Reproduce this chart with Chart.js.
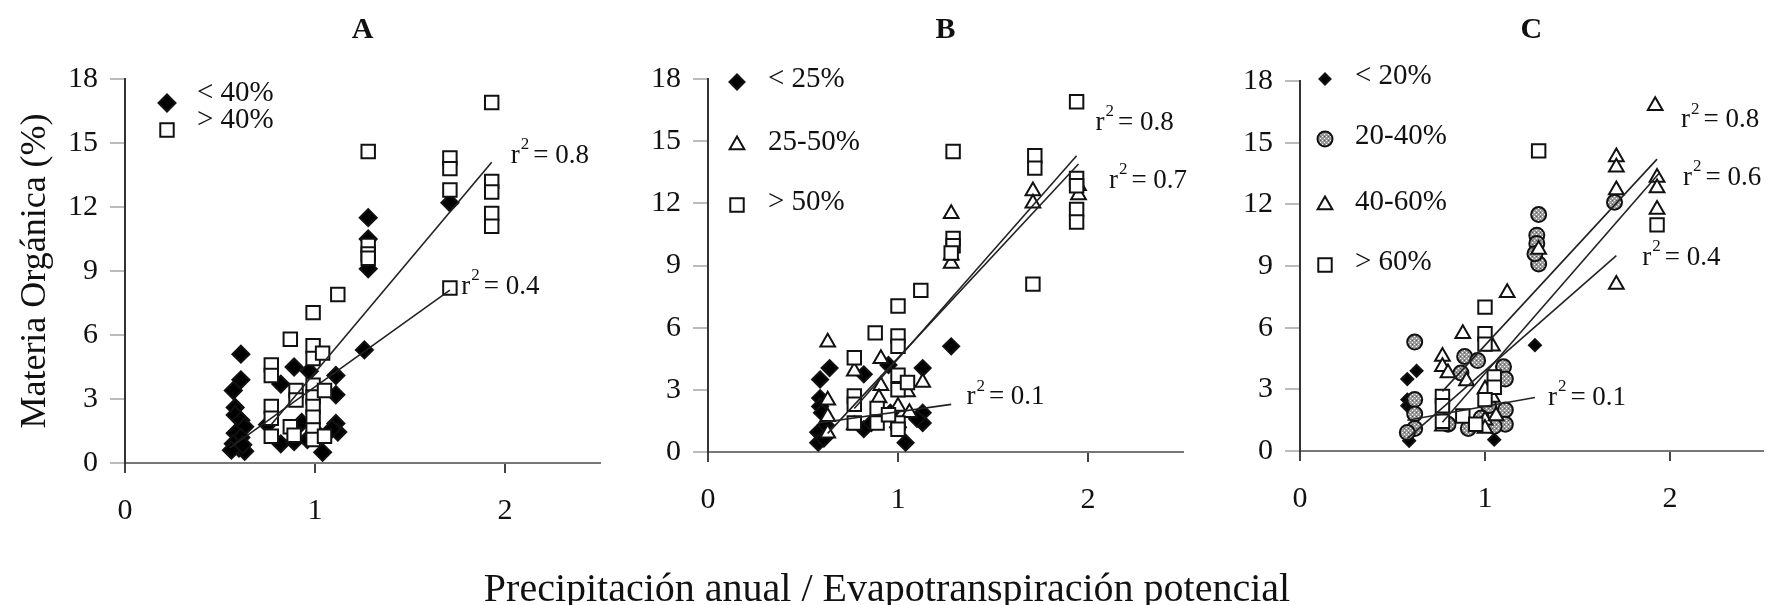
<!DOCTYPE html>
<html>
<head>
<meta charset="utf-8">
<script src="https://cdn.jsdelivr.net/npm/chart.js@4.4.1/dist/chart.umd.min.js"></script>
<style>
  html, body { margin: 0; padding: 0; background: #fff; }
  #wrap { position: relative; width: 1774px; height: 605px; overflow: hidden; background: #fff; }
  #wrap canvas { position: absolute; top: 0; }
  #xtitle {
    position: absolute; left: 0; top: 564px; width: 1774px;
    text-align: center; line-height: 44px; color: #111;
    font: 40px 'Liberation Serif', 'Times New Roman', serif;
  }
</style>
</head>
<body>
<div id="wrap">
  <canvas id="panelA" style="left:0px" width="640" height="605"></canvas>
  <canvas id="panelB" style="left:600px" width="610" height="605"></canvas>
  <canvas id="panelC" style="left:1190px" width="584" height="605"></canvas>
  <div id="xtitle">Precipitación anual / Evapotranspiración potencial</div>
</div>
<script>
const X_TICKS = [0, 1, 2];
const Y_TICKS = [0, 3, 6, 9, 12, 15, 18];

// A: arcilla
const A_LABELS = ['< 40%', '> 40%'];
const A_BELOW_40 = [
  [0.61, 5.1], [0.61, 3.9], [0.57, 3.4], [0.58, 2.6], [0.58, 2.25], [0.61, 2.0],
  [0.63, 1.7], [0.58, 1.4], [0.61, 1.2], [0.57, 0.9], [0.60, 0.7], [0.63, 0.55],
  [0.56, 0.6], [0.62, 0.85], [0.82, 3.7], [0.89, 4.5], [0.97, 4.3], [1.11, 4.1],
  [1.11, 3.2], [1.11, 1.85], [1.12, 1.45], [1.09, 1.6], [1.04, 0.5], [0.82, 0.9],
  [0.89, 1.0], [0.96, 1.1], [0.75, 1.8], [0.93, 1.9], [1.00, 1.5], [1.26, 5.3],
  [1.28, 9.1], [1.28, 10.5], [1.28, 11.5], [1.71, 12.2]
];
const A_ABOVE_40 = [
  [1.93, 16.9], [1.28, 14.6], [1.71, 14.3], [1.71, 13.8], [1.71, 12.8], [1.93, 13.2],
  [1.93, 12.7], [1.93, 11.7], [1.93, 11.1], [1.28, 10.2], [1.28, 9.8], [1.28, 9.6],
  [1.71, 8.2], [1.12, 7.9], [0.99, 7.05], [0.87, 5.8], [0.99, 5.5], [0.99, 4.9],
  [1.04, 5.15], [0.77, 4.6], [0.77, 4.1], [0.90, 3.4], [0.90, 2.95], [0.99, 3.65],
  [0.99, 3.1], [0.99, 2.65], [0.99, 2.15], [0.99, 1.55], [0.99, 1.1], [1.05, 3.4],
  [0.77, 2.65], [0.77, 2.1], [0.77, 1.25], [0.87, 1.7], [0.89, 1.3], [1.05, 1.25]
];
const A_FIT_ABOVE_40 = [[0.77, 1.8], [1.93, 14.1]];
const A_FIT_BELOW_40 = [[0.55, 0.7], [1.71, 8.1]];
const A_R2 = ['0.8', '0.4'];

// B: limo
const B_LABELS = ['< 25%', '25-50%', '> 50%'];
const B_BELOW_25 = [
  [1.28, 5.1], [0.64, 4.05], [0.59, 3.5], [0.82, 3.75], [1.13, 4.05], [0.59, 2.6],
  [0.59, 2.2], [0.60, 1.9], [0.58, 0.95], [0.58, 0.45], [0.61, 0.65], [0.62, 1.3],
  [1.13, 1.9], [1.13, 1.4], [1.10, 1.6], [1.04, 0.45], [0.82, 1.1], [0.86, 1.4],
  [0.96, 1.9], [0.95, 4.2], [1.00, 1.2]
];
const B_25_50 = [
  [1.28, 11.5], [1.28, 9.1], [1.28, 9.5], [1.71, 12.6], [1.71, 12.0], [1.95, 12.85],
  [1.95, 12.4], [0.63, 5.3], [0.77, 3.9], [0.91, 4.5], [0.91, 3.2], [0.63, 2.5],
  [0.63, 1.7], [0.63, 0.9], [1.13, 3.35], [1.00, 2.2], [1.06, 1.9], [0.90, 2.6],
  [0.77, 1.3], [1.05, 2.9]
];
const B_ABOVE_50 = [
  [1.94, 16.9], [1.29, 14.5], [1.72, 14.3], [1.72, 13.7], [1.94, 13.2], [1.94, 12.85],
  [1.94, 11.7], [1.94, 11.1], [1.29, 10.3], [1.29, 9.95], [1.28, 9.6], [1.71, 8.1],
  [1.12, 7.8], [1.00, 7.05], [0.88, 5.75], [1.00, 5.6], [1.00, 5.1], [0.77, 4.55],
  [0.77, 2.7], [0.77, 2.3], [0.77, 1.4], [0.89, 2.1], [0.89, 1.4], [1.00, 3.7],
  [1.00, 3.0], [1.00, 1.4], [1.00, 1.1], [1.05, 3.35], [0.95, 1.8]
];
const B_FIT_ABOVE_50 = [[0.77, 2.1], [1.94, 14.3]];
const B_FIT_25_50 = [[0.63, 0.9], [1.95, 13.9]];
const B_FIT_BELOW_25 = [[0.58, 1.4], [1.28, 2.3]];
const B_R2 = ['0.8', '0.7', '0.1'];

// C: arena
const C_LABELS = ['< 20%', '20-40%', '40-60%', '> 60%'];
const C_BELOW_20 = [
  [0.58, 3.5], [0.63, 3.9], [1.27, 5.15], [0.58, 2.5], [0.58, 2.2], [0.59, 0.5],
  [1.05, 0.55], [0.60, 1.0]
];
const C_20_40 = [
  [0.62, 5.3], [1.29, 11.5], [1.28, 10.5], [1.28, 10.1], [1.29, 9.1], [1.27, 9.6],
  [1.70, 12.1], [0.89, 4.6], [0.96, 4.4], [1.10, 4.1], [1.11, 3.5], [0.62, 2.5],
  [0.62, 1.8], [0.62, 1.1], [0.58, 0.9], [0.87, 3.8], [1.11, 2.0], [1.11, 1.3],
  [0.91, 1.1], [1.02, 2.2], [0.98, 1.6], [1.05, 1.2], [0.80, 1.3]
];
const C_40_60 = [
  [1.92, 16.8], [1.71, 14.3], [1.71, 13.8], [1.71, 12.7], [1.93, 13.3], [1.93, 12.8],
  [1.93, 11.75], [1.71, 8.1], [1.29, 9.8], [1.12, 7.7], [0.88, 5.7], [0.77, 4.6],
  [0.77, 4.1], [1.04, 5.1], [0.90, 3.4], [1.00, 3.0], [1.00, 1.5], [1.00, 1.1],
  [1.06, 1.7], [0.80, 3.8], [1.04, 2.6], [0.77, 1.2]
];
const C_ABOVE_60 = [
  [1.29, 14.6], [1.93, 11.0], [1.00, 7.0], [1.00, 5.7], [1.00, 5.2], [0.77, 2.65],
  [0.77, 2.2], [0.77, 1.45], [0.88, 1.7], [1.05, 3.6], [1.05, 3.1], [1.00, 2.5],
  [0.95, 1.3]
];
const C_FIT_40_60 = [[0.77, 2.9], [1.93, 14.2]];
const C_FIT_ABOVE_60 = [[0.77, 1.4], [1.94, 13.5]];
const C_FIT_20_40 = [[0.58, 0.6], [1.71, 9.5]];
const C_FIT_BELOW_20 = [[0.58, 1.5], [1.27, 2.6]];
const C_R2 = ['0.8', '0.6', '0.4', '0.1'];

const SERIF = "'Liberation Serif', 'Times New Roman', serif";
const INK = '#111';

// grey stipple used for the 20-40% circles
function stipple() {
  const c = document.createElement('canvas');
  c.width = 4; c.height = 4;
  const g = c.getContext('2d');
  g.fillStyle = '#9a9a9a';
  g.fillRect(0, 0, 4, 4);
  g.fillStyle = '#fff';
  g.fillRect(0, 0, 1, 1);
  g.fillRect(2, 2, 1, 1);
  g.fillStyle = '#555';
  g.fillRect(2, 0, 1, 1);
  return g.createPattern(c, 'repeat');
}
const DOTS = stipple();

const toXY = (arr) => arr.map(([x, y]) => ({ x, y }));

function marks(data, shape, fill, radius) {
  return {
    data: toXY(data),
    pointStyle: shape,
    pointRadius: radius,
    pointBackgroundColor: fill,
    pointBorderColor: INK,
    pointBorderWidth: 2,
    showLine: false
  };
}

function fit(data) {
  return {
    data: toXY(data),
    showLine: true,
    borderColor: '#222',
    borderWidth: 1.6,
    pointRadius: 0
  };
}

// letter, legend and r² labels drawn over each panel
const panelDecor = {
  id: 'panelDecor',
  afterDraw(chart, args, opts) {
    const { ctx, chartArea, scales } = chart;
    ctx.save();
    ctx.fillStyle = INK;
    ctx.font = `bold 30px ${SERIF}`;
    ctx.textAlign = 'center';
    ctx.textBaseline = 'middle';
    ctx.fillText(opts.letter, (chartArea.left + chartArea.right) / 2, opts.letterY);

    ctx.textAlign = 'left';
    const mx = chartArea.left + opts.legendX;
    opts.legend.forEach((item) => {
      ctx.save();
      ctx.fillStyle = item.fill;
      ctx.strokeStyle = INK;
      ctx.lineWidth = 2;
      Chart.helpers.drawPoint(ctx, {
        pointStyle: item.shape, radius: item.radius, rotation: 0, borderWidth: 2
      }, mx, item.y);
      ctx.restore();
      ctx.font = `29px ${SERIF}`;
      ctx.fillText(item.text, mx + opts.textGap, item.y - opts.textLift);
    });

    opts.r2.forEach((text, i) => {
      const [vx, vy] = opts.r2At[i];
      let x = scales.x.getPixelForValue(vx);
      const y = scales.y.getPixelForValue(vy);
      ctx.font = `27px ${SERIF}`;
      ctx.fillText('r', x, y);
      x += ctx.measureText('r').width + 1;
      ctx.font = `17px ${SERIF}`;
      ctx.fillText('2', x, y - 11);
      x += ctx.measureText('2').width + 4;
      ctx.font = `27px ${SERIF}`;
      ctx.fillText('= ' + text, x, y);
    });
    ctx.restore();
  }
};

function makePanel(id, datasets, box, decor, yTitle) {
  return new Chart(document.getElementById(id), {
    type: 'scatter',
    data: { datasets },
    options: {
      responsive: false,
      animation: false,
      events: [],
      layout: { padding: { top: box.top, right: box.right, left: 0, bottom: 0 } },
      plugins: {
        legend: { display: false },
        tooltip: { enabled: false },
        panelDecor: decor
      },
      scales: {
        x: {
          type: 'linear',
          min: 0,
          max: 2.5,
          afterBuildTicks: (s) => { s.ticks = X_TICKS.map((value) => ({ value })); },
          afterFit: (s) => { s.height = 605 - box.bottom; },
          border: { color: '#777', width: 2 },
          grid: { drawOnChartArea: false, tickLength: 10, tickColor: '#444', lineWidth: 2 },
          ticks: { color: INK, padding: 20, font: { family: SERIF, size: 30 } }
        },
        y: {
          type: 'linear',
          min: 0,
          max: 18,
          afterBuildTicks: (s) => { s.ticks = Y_TICKS.map((value) => ({ value })); },
          afterFit: (s) => { s.width = box.left; },
          border: { color: '#333', width: 2 },
          grid: { drawOnChartArea: false, tickLength: 15, tickColor: '#bbb', lineWidth: 2 },
          ticks: { color: INK, padding: 12, font: { family: SERIF, size: 30 } },
          title: yTitle ? {
            display: true,
            text: yTitle,
            color: INK,
            font: { family: SERIF, size: 36 },
            padding: { top: 14, bottom: 0 }
          } : { display: false }
        }
      }
    },
    plugins: [panelDecor]
  });
}

makePanel('panelA', [
  fit(A_FIT_ABOVE_40),
  fit(A_FIT_BELOW_40),
  marks(A_ABOVE_40, 'rect', '#fff', 9.5),
  marks(A_BELOW_40, 'rectRot', '#000', 8.5)
], { left: 125, right: 40, top: 79, bottom: 463 }, {
  letter: 'A', letterY: 30, legendX: 42, textGap: 30, textLift: 10,
  legend: [
    { text: A_LABELS[0], shape: 'rectRot', fill: '#000', radius: 8.5, y: 103 },
    { text: A_LABELS[1], shape: 'rect', fill: '#fff', radius: 9.5, y: 130 }
  ],
  r2: A_R2, r2At: [[2.03, 14.4], [1.77, 8.25]]
}, 'Materia Orgánica (%)');

makePanel('panelB', [
  fit(B_FIT_ABOVE_50),
  fit(B_FIT_25_50),
  fit(B_FIT_BELOW_25),
  marks(B_ABOVE_50, 'rect', '#fff', 9.5),
  marks(B_25_50, 'triangle', '#fff', 8.5),
  marks(B_BELOW_25, 'rectRot', '#000', 8)
], { left: 108, right: 27, top: 79, bottom: 452 }, {
  letter: 'B', letterY: 30, legendX: 29, textGap: 31, textLift: 3,
  legend: [
    { text: B_LABELS[0], shape: 'rectRot', fill: '#000', radius: 7.5, y: 82 },
    { text: B_LABELS[1], shape: 'triangle', fill: '#fff', radius: 8.5, y: 145 },
    { text: B_LABELS[2], shape: 'rect', fill: '#fff', radius: 9.5, y: 205 }
  ],
  r2: B_R2, r2At: [[2.04, 15.9], [2.11, 13.1], [1.36, 2.65]]
});

makePanel('panelC', [
  fit(C_FIT_40_60),
  fit(C_FIT_ABOVE_60),
  fit(C_FIT_20_40),
  fit(C_FIT_BELOW_20),
  marks(C_ABOVE_60, 'rect', '#fff', 9.5),
  marks(C_40_60, 'triangle', '#fff', 8.5),
  marks(C_20_40, 'circle', DOTS, 7.5),
  marks(C_BELOW_20, 'rectRot', '#000', 6)
], { left: 110, right: 6, top: 81, bottom: 451 }, {
  letter: 'C', letterY: 30, legendX: 25, textGap: 30, textLift: 3,
  legend: [
    { text: C_LABELS[0], shape: 'rectRot', fill: '#000', radius: 5.5, y: 79 },
    { text: C_LABELS[1], shape: 'circle', fill: DOTS, radius: 7.5, y: 139 },
    { text: C_LABELS[2], shape: 'triangle', fill: '#fff', radius: 8.5, y: 205 },
    { text: C_LABELS[3], shape: 'rect', fill: '#fff', radius: 9.5, y: 265 }
  ],
  r2: C_R2, r2At: [[2.06, 16.1], [2.07, 13.3], [1.85, 9.4], [1.34, 2.6]]
});
</script>
</body>
</html>
